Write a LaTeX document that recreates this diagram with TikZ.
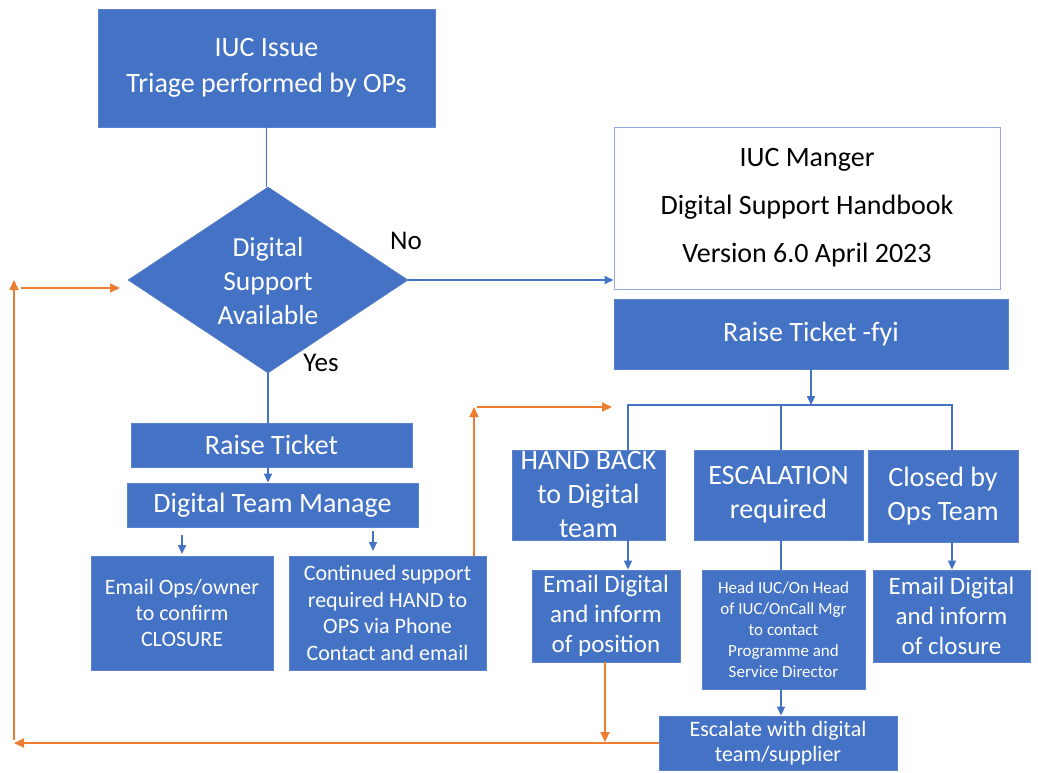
\documentclass[tikz,border=0pt]{standalone}
\usepackage{fontspec}
\setmainfont{Carlito}
\usetikzlibrary{arrows.meta,shapes.geometric}
\definecolor{bfill}{HTML}{4472C4}
\definecolor{bedge}{HTML}{5B82CC}
\definecolor{bline}{HTML}{4472C4}
\definecolor{oline}{HTML}{ED7D31}
\definecolor{hedge}{HTML}{8FAADC}
\tikzset{
  blk/.style={draw=bedge, fill=bfill, text=white, align=center, inner sep=0pt, line width=0.8pt},
  bl/.style={draw=bline, line width=1.6pt},
  ba/.style={bl, -{Triangle[length=9pt,width=8pt]}},
  oa/.style={draw=oline, line width=2pt, -{Triangle[length=10pt,width=9pt]}},
  lbl/.style={text=black, font=\fontsize{27}{30}\selectfont},
}
\begin{document}
\begin{tikzpicture}[x=1pt,y=-1pt]
\useasboundingbox (0,0) rectangle (1038,772);
% top box
\node[blk, minimum width=337pt, minimum height=118pt, font=\fontsize{28}{36}\selectfont] (top) at (266.5,68) {IUC Issue\\Triage performed by OPs};
% diamond
\node[diamond, draw=bfill, fill=bfill, minimum width=280pt, minimum height=186pt, inner sep=0pt] (dia) at (268,280) {};
\node[text=white, align=center, font=\fontsize{27.5}{34}\selectfont] (diat) at (268,281) {Digital\\Support\\Available};
\node[lbl, anchor=center] (no) at (406,241) {No};
\node[lbl, anchor=center] (yes) at (321,363) {Yes};
% handbook
\node[draw=hedge, fill=white, line width=1pt, minimum width=386pt, minimum height=162pt, align=center, inner sep=0pt, font=\fontsize{28}{48}\selectfont] (hb) at (807,208) {IUC Manger\\Digital Support Handbook\\Version 6.0 April 2023};
% raise ticket fyi
\node[blk, minimum width=394pt, minimum height=70pt, font=\fontsize{28}{30}\selectfont] (rtf) at (811,334) {Raise Ticket -fyi};
% left column
\node[blk, minimum width=281pt, minimum height=44pt, font=\fontsize{28}{30}\selectfont] (rt) at (271.5,445) {Raise Ticket};
\node[blk, minimum width=291pt, minimum height=44pt, font=\fontsize{28}{30}\selectfont] (dtm) at (272.5,505) {Digital Team Manage};
\node[blk, minimum width=182pt, minimum height=114pt, font=\fontsize{22}{26}\selectfont] (eops) at (182,613) {Email Ops/owner\\to confirm\\CLOSURE};
\node[blk, minimum width=197pt, minimum height=114pt, font=\fontsize{22}{26.5}\selectfont] (cs) at (387.5,613) {Continued support\\required HAND to\\OPS via Phone\\Contact and email};
% right branches
\node[blk, minimum width=153pt, minimum height=90pt, font=\fontsize{28}{34}\selectfont] (hbk) at (588.5,495) {HAND BACK\\to Digital\\team};
\node[blk, minimum width=169pt, minimum height=90pt, font=\fontsize{28}{34}\selectfont] (esc) at (778.5,495) {ESCALATION\\required};
\node[blk, minimum width=150pt, minimum height=92pt, font=\fontsize{28}{34}\selectfont] (cl) at (943,496) {Closed by\\Ops Team};
\node[blk, minimum width=148pt, minimum height=92pt, font=\fontsize{25}{30}\selectfont] (epos) at (606,616) {Email Digital\\and inform\\of position};
\node[blk, minimum width=163pt, minimum height=119pt, font=\fontsize{17}{21}\selectfont] (head) at (783.5,629.5) {Head IUC/On Head\\of IUC/OnCall Mgr\\to contact\\Programme and\\Service Director};
\node[blk, minimum width=157pt, minimum height=92pt, font=\fontsize{25}{30}\selectfont] (eclo) at (951.5,616) {Email Digital\\and inform\\of closure};
\node[blk, minimum width=238pt, minimum height=54pt, font=\fontsize{22}{25}\selectfont] (esc2) at (778,743) {Escalate with digital\\team/supplier};
% blue connectors
\draw[bl] (top.south) -- (top.south |- dia.north);
\draw[ba] (dia.east) -- (dia.east -| hb.west);
\draw[bl] (dia.south) -- (dia.south |- rt.north);
\draw[ba] (dia.south |- rt.south) -- (dia.south |- dtm.north);
\coordinate (s1a) at (182,535); \coordinate (s1b) at (182,554);
\coordinate (s2a) at (373,531); \coordinate (s2b) at (373,551);
\draw[ba] (s1a) -- (s1b);
\draw[ba] (s2a) -- (s2b);
\coordinate (br) at (811,405);
\coordinate (b1) at (628,405);
\coordinate (b2) at (781,405);
\coordinate (b3) at (952,405);
\draw[ba] (rtf.south -| br) -- (br);
\draw[bl] (b1 |- hbk.north) -- (b1) -- (b3) -- (b3 |- cl.north);
\draw[bl] (b2) -- (b2 |- esc.north);
\draw[ba] (b1 |- hbk.south) -- (b1 |- epos.north);
\draw[bl] (b2 |- esc.south) -- (b2 |- head.north);
\draw[ba] (b3 |- cl.south) -- (b3 |- eclo.north);
\draw[ba] (b2 |- head.south) -- (b2 |- esc2.north);
% orange connectors
\coordinate (oc1) at (474,407);
\coordinate (oc1b) at (477,407);
\coordinate (oc2) at (612,407);
\draw[oa] (oc1 |- cs.north) -- (oc1);
\draw[oa] (oc1b) -- (oc2);
\coordinate (ob) at (605,742);
\draw[oa] (epos.south -| ob) -- (ob);
\coordinate (ol) at (14,743);
\draw[oa] (esc2.west) -- (ol);
\coordinate (olb) at (14,740);
\coordinate (olt) at (14,280);
\draw[oa] (olb) -- (olt);
\coordinate (orr) at (21,288);
\coordinate (ore) at (120,288);
\draw[oa] (orr) -- (ore);
\end{tikzpicture}
\end{document}
